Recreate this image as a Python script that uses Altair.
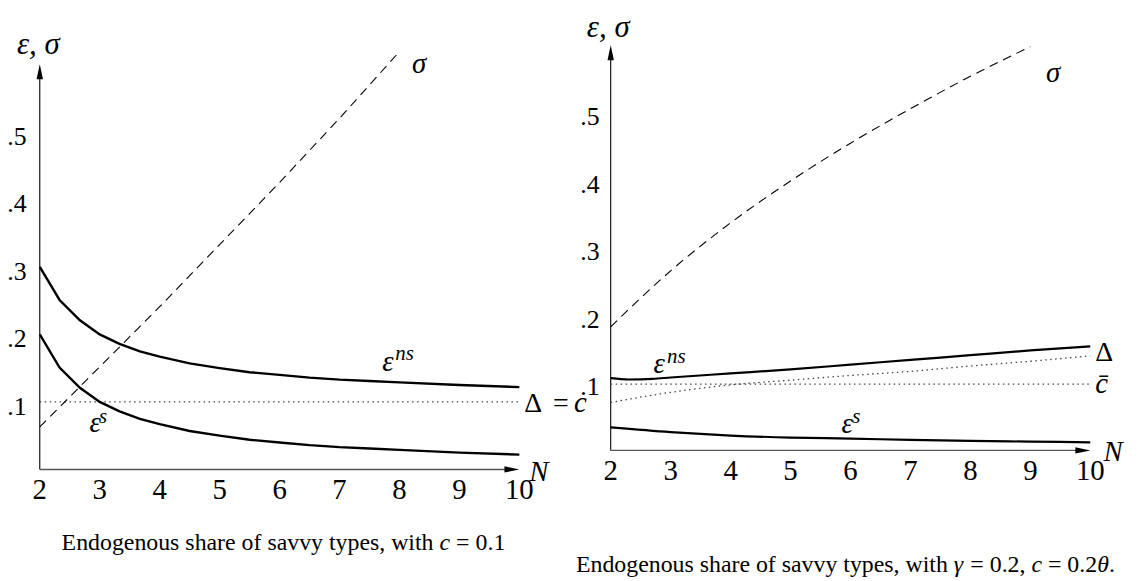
import altair as alt
import pandas as pd

FONT = "'Liberation Serif', 'Times New Roman', Times, serif"

# ---------------- Left panel data (c = 0.1) ----------------
N_L = [2, 2.33, 2.67, 3, 3.33, 3.67, 4, 4.5, 5, 5.5, 6, 6.5, 7, 7.5, 8, 9, 10]
EPS_S_L = [0.2, 0.151, 0.121, 0.1, 0.086, 0.075, 0.067, 0.057, 0.05, 0.044, 0.04, 0.036, 0.033, 0.031, 0.029, 0.025, 0.022]
EPS_NS_L = [0.3, 0.251, 0.221, 0.2, 0.186, 0.175, 0.167, 0.157, 0.15, 0.144, 0.14, 0.136, 0.133, 0.131, 0.129, 0.125, 0.122]
SIG_N_L = [2, 3, 4, 5, 6, 7, 7.95]
SIG_L = [0.063, 0.152, 0.241, 0.333, 0.425, 0.52, 0.614]
DELTA_N_L = [2, 10]
DELTA_L = [0.1, 0.1]

# ---------------- Right panel data (gamma = 0.2, c = 0.2 theta) ----------------
N_NS_R = [2, 2.3, 2.7, 3, 4, 5, 6, 7, 8, 9, 10]
EPS_NS_R = [0.107, 0.105, 0.106, 0.108, 0.114, 0.12, 0.127, 0.134, 0.141, 0.148, 0.154]
N_R = [2, 3, 4, 5, 6, 7, 8, 9, 10]
EPS_S_R = [0.034, 0.027, 0.022, 0.019, 0.0175, 0.0155, 0.014, 0.013, 0.012]
SIG_N_R = [2, 3, 4, 5, 6, 7, 8, 9]
SIG_R = [0.183, 0.266, 0.337, 0.399, 0.455, 0.506, 0.554, 0.598]
DELTA_R = [0.071, 0.086, 0.097, 0.104, 0.111, 0.117, 0.125, 0.132, 0.140]
CBAR_N_R = [2, 10]
CBAR_R = [0.098, 0.098]

# ---------------- Axis ticks ----------------
X_TICKS = [2, 3, 4, 5, 6, 7, 8, 9, 10]
Y_TICKS = [0.1, 0.2, 0.3, 0.4, 0.5]
Y_TICK_LABELS = [".1", ".2", ".3", ".4", ".5"]

# ---------------- Annotations (text, N, value) ----------------
LAB_L_ITALIC = [("σ", 8.211, 0.5878), ("ε", 7.714, 0.1451), ("ε", 2.828, 0.0554),
                ("c", 10.91, 0.0849), ("N", 10.166, -0.0166)]
LAB_L_TITLE = [("ε, σ", 1.619, 0.6157)]
LAB_L_SUP = [("ns", 7.93, 0.1628), ("s", 2.99, 0.0687)]
LAB_L_UPRIGHT = [("Δ", 10.083, 0.0849), ("=", 10.563, 0.0849)]
CAP_L_UPRIGHT = [("Endogenous share of savvy types, with", 2.364, -0.1196), ("= 0.1", 8.945, -0.1196)]
CAP_L_ITALIC = [("c", 8.668, -0.1196)]

LAB_R_ITALIC = [("σ", 9.26, 0.5463), ("ε", 2.712, 0.114), ("ε", 5.85, 0.0257),
                ("c̄", 10.083, 0.0846), ("N", 10.22, -0.0154)]
LAB_R_TITLE = [("ε, σ", 1.6025, 0.6125)]
LAB_R_SUP = [("ns", 2.94, 0.1287), ("s", 6.03, 0.0404)]
LAB_R_UPRIGHT = [("Δ", 10.083, 0.1331)]
CAP_R_UPRIGHT = [("Endogenous share of savvy types, with", 1.42, -0.180), ("= 0.2,", 7.999, -0.180),
                 ("= 0.2", 9.294, -0.180), (".", 10.314, -0.180)]
CAP_R_ITALIC = [("γ", 7.724, -0.180), ("c", 9.018, -0.180), ("θ", 10.115, -0.180)]

# ---------------- Scales ----------------
XL = alt.Scale(domain=[2, 10], range=[32, 515], nice=False, zero=False)
YL = alt.Scale(domain=[0, 0.6], range=[462.7, 54.7], nice=False, zero=False)
XR = alt.Scale(domain=[2, 10], range=[607, 1090], nice=False, zero=False)
YR = alt.Scale(domain=[0, 0.6], range=[443.5, 35.5], nice=False, zero=False)


def df_xy(xs, ys):
    return pd.DataFrame({"N": xs, "v": ys})


def enc(chart, xs, ys):
    return chart.encode(x=alt.X("N:Q", scale=xs, axis=None), y=alt.Y("v:Q", scale=ys, axis=None))


def line(xs_data, ys_data, xs, ys, width=2.4, dash=None, color="black", interp="linear"):
    kw = dict(color=color, strokeWidth=width, interpolate=interp, clip=False)
    if dash:
        kw["strokeDash"] = dash
    return enc(alt.Chart(df_xy(xs_data, ys_data)).mark_line(**kw), xs, ys)


def texts(rows, xs, ys, size, style="normal", align="left", dx=0, dy=0, baseline="alphabetic"):
    d = pd.DataFrame(rows, columns=["t", "N", "v"])
    return alt.Chart(d).mark_text(font=FONT, fontSize=size, fontStyle=style, align=align,
                                  baseline=baseline, dx=dx, dy=dy, color="black").encode(
        x=alt.X("N:Q", scale=xs, axis=None), y=alt.Y("v:Q", scale=ys, axis=None), text="t:N")


def axes(xs, ys, xdy, ydx, ydy):
    yaxis = alt.Chart(pd.DataFrame({"N": [2], "v": [0], "v2": [0.585]})).mark_rule(
        color="black", strokeWidth=1.1).encode(
        x=alt.X("N:Q", scale=xs, axis=None), y=alt.Y("v:Q", scale=ys, axis=None), y2="v2:Q")
    xaxis = alt.Chart(pd.DataFrame({"N": [2], "N2": [9.9], "v": [0]})).mark_rule(
        color="#555555", strokeWidth=1.4).encode(
        x=alt.X("N:Q", scale=xs, axis=None), x2="N2:Q", y=alt.Y("v:Q", scale=ys, axis=None))
    up = enc(alt.Chart(df_xy([2], [0.6])).mark_point(
        shape="M0,-1L0.43,1L-0.43,1Z", size=225, filled=True, opacity=1, color="black",
        yOffset=7.5), xs, ys)
    right = enc(alt.Chart(df_xy([10], [0])).mark_point(
        shape="M1,0L-1,-0.42L-1,0.42Z", size=225, filled=True, opacity=1, color="black",
        xOffset=-7.5), xs, ys)
    xt = texts([(str(n), n, 0) for n in X_TICKS], xs, ys, 29, align="center", dy=xdy)
    yt = texts(list(zip(Y_TICK_LABELS, [2] * 5, Y_TICKS)), xs, ys, 26, align="center", dx=ydx, dy=ydy)
    return [yaxis, xaxis, up, right, xt, yt]


left = alt.layer(
    *axes(XL, YL, 30, -23, 13),
    line(DELTA_N_L, DELTA_L, XL, YL, width=1.3, dash=[1.5, 3.5], color="#444444"),
    line(SIG_N_L, SIG_L, XL, YL, width=1.1, dash=[9, 6]),
    line(N_L, EPS_NS_L, XL, YL, width=2.4),
    line(N_L, EPS_S_L, XL, YL, width=2.4),
    texts(LAB_L_ITALIC, XL, YL, 29, style="italic"),
    texts(LAB_L_TITLE, XL, YL, 31, style="italic"),
    texts(LAB_L_SUP, XL, YL, 21, style="italic"),
    texts(LAB_L_UPRIGHT, XL, YL, 28),
    texts(CAP_L_UPRIGHT, XL, YL, 24),
    texts(CAP_L_ITALIC, XL, YL, 24, style="italic"),
)

right = alt.layer(
    *axes(XR, YR, 30, -21, 12.5),
    line(CBAR_N_R, CBAR_R, XR, YR, width=1.3, dash=[1.5, 3.5], color="#444444"),
    line(N_R, DELTA_R, XR, YR, width=1.3, dash=[1.5, 3.5], color="#444444", interp="monotone"),
    line(SIG_N_R, SIG_R, XR, YR, width=1.1, dash=[9, 6], interp="monotone"),
    line(N_NS_R, EPS_NS_R, XR, YR, width=2.2, interp="monotone"),
    line(N_R, EPS_S_R, XR, YR, width=2.2, interp="monotone"),
    texts(LAB_R_ITALIC, XR, YR, 29, style="italic"),
    texts(LAB_R_TITLE, XR, YR, 31, style="italic"),
    texts(LAB_R_SUP, XR, YR, 21, style="italic"),
    texts(LAB_R_UPRIGHT, XR, YR, 28),
    texts(CAP_R_UPRIGHT, XR, YR, 24),
    texts(CAP_R_ITALIC, XR, YR, 24, style="italic"),
)

chart = alt.layer(left, right).resolve_scale(x="independent", y="independent").properties(
    width=1130, height=573, padding=0, autosize="none"
).configure_view(stroke=None)

chart.save("out.html", embed_options={"renderer": "svg", "actions": False})
